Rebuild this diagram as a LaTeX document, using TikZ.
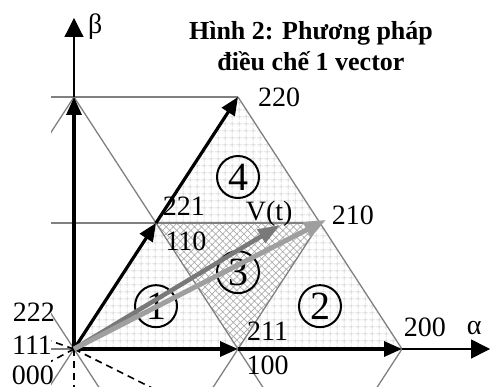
\documentclass[tikz,border=0pt]{standalone}
\usepackage{fontspec}
\setmainfont{Liberation Serif}
\usetikzlibrary{arrows.meta, patterns.meta}

\begin{document}
\begin{tikzpicture}[x=164pt, y=126pt,
    lat/.style={gray, line width=1.3pt},
    vec/.style={line width=3.2pt, -{Triangle[length=18pt,width=15pt]}},
    axis/.style={line width=1.2pt, -{Triangle[length=19pt,width=19pt]}},
    swdash/.style={line width=1.6pt, dash pattern=on 7pt off 5pt},
    lbl/.style={font=\fontsize{28}{30}\selectfont, inner sep=0pt},
    num/.style={circle, draw, line width=2pt, minimum size=42pt, inner sep=0pt,
                font=\fontsize{40}{40}\selectfont}]

        \useasboundingbox (-0.4512,-0.2937) rectangle (2.5427,2.7698);

        % --- lattice points ---
        \coordinate (O)    at (0,0);
        \coordinate (P100) at (1,0);
        \coordinate (P200) at (2,0);
        \coordinate (P110) at (0.5,1);
        \coordinate (P210) at (1.5,1);
        \coordinate (P220) at (1,2);
        \coordinate (Ptop) at (0,2);

        % --- sectors ---
        \fill[pattern={Hatch[distance=6.5pt,angle=0,line width=0.5pt]}, pattern color=gray!45]
            (O) -- (P100) -- (P110) -- cycle
            (P100) -- (P200) -- (P210) -- cycle
            (P110) -- (P210) -- (P220) -- cycle;
        \fill[pattern={Hatch[distance=5pt,angle=45,line width=0.7pt]}, pattern color=gray!65]
            (P110) -- (P100) -- (P210) -- cycle;

        % --- lattice lines ---
        \begin{scope}
            \clip (-0.14,-0.2937) rectangle (2.55,2.77);
            \coordinate (L2)  at (-0.5,2);
            \coordinate (L1)  at (-0.5,1);
            \coordinate (L0)  at (-0.5,0);
            \coordinate (Dl)  at (-0.5,-1);
            \coordinate (Dm)  at (0.5,-1);
            \coordinate (Dr)  at (1.5,-1);
            \draw[lat] (L2) -- (P220);
            \draw[lat] (L1) -- (P210);
            \draw[lat] (L0) -- (O);
            \draw[lat] (Ptop) -- (L1) -- (O) -- (Dm);
            \draw[lat] (Ptop) -- (P110) -- (P100) -- (Dr);
            \draw[lat] (Dm) -- (P100) -- (P210);
            \draw[lat] (P220) -- (P210) -- (P200) -- (Dr);
            \draw[lat] (Dl) -- (O);

            % other switching vectors
            \coordinate (w1) at (-0.3,0.135);
            \coordinate (w2) at (-0.3,-0.21);
            \coordinate (w3) at (0,-0.4);
            \coordinate (w4) at (0.6,-0.39);
            \draw[swdash] (O) -- (w1);
            \draw[swdash] (O) -- (w2);
            \draw[swdash] (O) -- (w3);
            \draw[swdash] (O) -- (w4);
        \end{scope}

        % --- axes ---
        \coordinate (Atip) at (2.537,0);
        \coordinate (Btip) at (0,2.627);
        \draw[axis] (Ptop) -- (Btip);
        \draw[axis] (P200) -- (Atip);
        \node[lbl] (lalpha) at (2.44,0.17) {α};
        \node[lbl] (lbeta)  at (0.13,2.556) {β};

        % --- sector numbers ---
        \node[num] (s1) at (0.5,0.34) {1};
        \node[num] (s2) at (1.5,0.34) {2};
        \node[num] (s3) at (1.0,0.61) {3};
        \node[num] (s4) at (1.0,1.365) {4};

        % --- active vectors ---
        \draw[vec] (O) -- (P100);
        \draw[vec] (P100) -- (P200);
        \draw[vec] (O) -- (P110);
        \draw[vec] (P110) -- (P220);
        \draw[vec] (O) -- (Ptop);

        % --- reference vector ---
        \coordinate (Vt) at (1.256,0.984);
        \draw[gray!95!black, line width=4.5pt, -{Triangle[length=22pt,width=15pt]}] (O) -- (Vt);
        \draw[gray!75, line width=5pt, shorten >=-7pt, -{Triangle[length=22pt,width=16pt]}] (O) -- (P210);

        % --- labels ---
        \node[lbl] (l220) at (1.25,2.0)    {220};
        \node[lbl] (l221) at (0.67,1.135)  {221};
        \node[lbl] (l110) at (0.683,0.857) {110};
        \node[lbl] (lVt)  at (1.19,1.07)   {V(t)};
        \node[lbl] (l210) at (1.70,1.06)   {210};
        \node[lbl] (l222) at (-0.244,0.294) {222};
        \node[lbl] (l111) at (-0.256,0.032) {111};
        \node[lbl, text depth=0pt, anchor=south] (l000) at (-0.25,-0.285) {000};
        \node[lbl] (l211) at (1.18,0.143)  {211};
        \node[lbl] (l100) at (1.18,-0.127) {100};
        \node[lbl] (l200) at (2.14,0.175)  {200};

        % --- title ---
        \node[font=\fontsize{26}{31}\selectfont\bfseries, align=center] (title) at (1.445,2.405)
            {Hình 2: Phương pháp\\điều chế 1 vector};
    \end{tikzpicture}
\end{document}
